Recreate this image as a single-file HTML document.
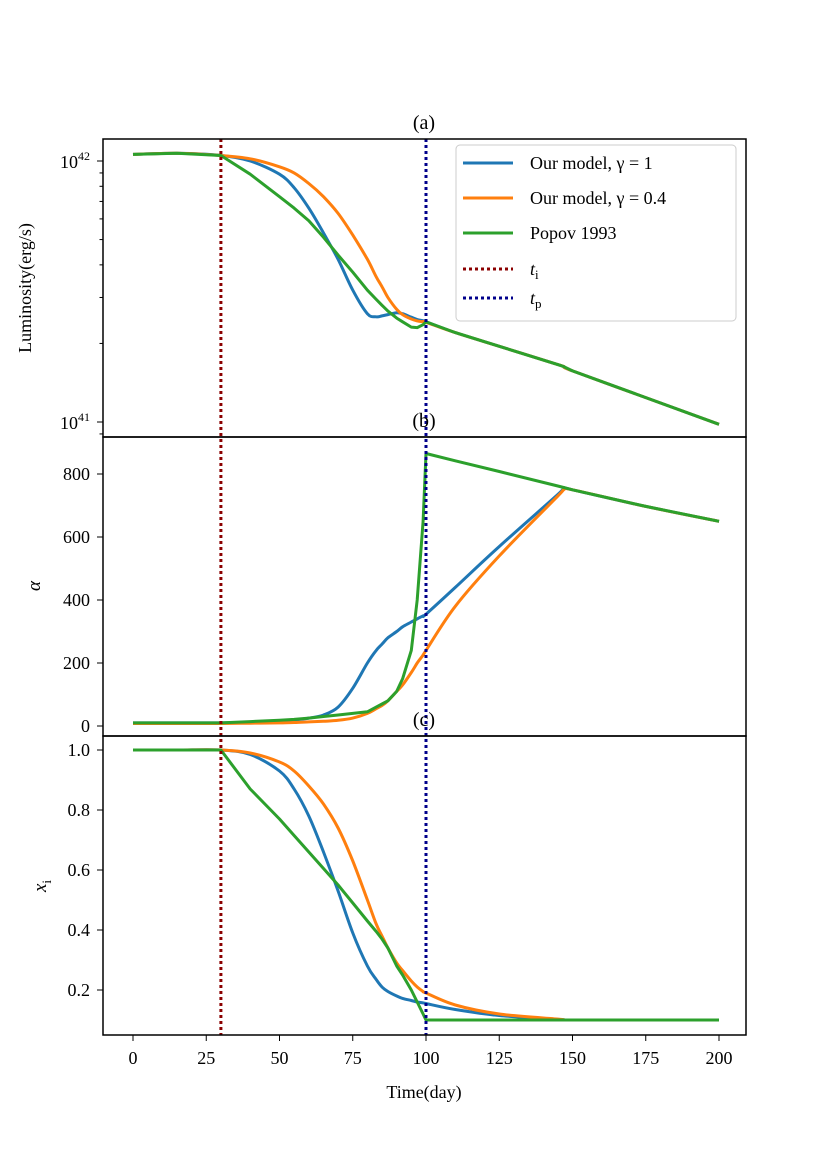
<!DOCTYPE html>
<html><head><meta charset="utf-8"><style>
body{margin:0;background:#fff}
svg text{font-family:"Liberation Serif","DejaVu Serif",serif;fill:#000}
</style></head><body>
<svg id="fig" width="830" height="1163"></svg>
<script>
const days=[0,15,30,40,50,55,60,65,70,75,80,83,85,87,90,92,95,97,99,100,110,125,145,147,150,175,200];
// luminosity in units of 1e41 erg/s
const lumBlue=[10.6,10.7,10.5,10.0,8.9,7.9,6.6,5.3,4.2,3.2,2.6,2.53,2.55,2.58,2.62,2.6,2.52,2.47,2.44,2.42,2.2,1.95,1.66,1.63,1.57,1.24,0.98];
const lumOrange=[10.6,10.7,10.5,10.2,9.5,9.0,8.2,7.3,6.3,5.2,4.2,3.6,3.3,3.0,2.7,2.58,2.48,2.44,2.42,2.41,2.2,1.95,1.66,1.63,1.57,1.24,0.98];
const lumGreen=[10.6,10.7,10.5,8.9,7.3,6.6,5.9,5.1,4.36,3.75,3.2,2.95,2.8,2.66,2.5,2.42,2.31,2.3,2.36,2.42,2.2,1.95,1.66,1.63,1.57,1.24,0.98];
const alphaBlue=[10,10,10,12,15,19,25,35,60,120,200,240,260,280,300,315,330,340,350,355,440,570,735,755,750,697,650];
const alphaOrange=[8,8,8,9,10,11,13,15,18,25,40,55,65,80,110,130,170,200,225,240,380,540,730,750,750,697,650];
const alphaGreen=[10,10,10,14,18,21,25,30,35,40,45,60,70,80,110,150,240,400,650,865,842,808,762,757,750,697,650];
const xiBlue=[1,1,1,0.985,0.93,0.87,0.78,0.66,0.53,0.39,0.28,0.235,0.21,0.195,0.18,0.172,0.165,0.16,0.157,0.155,0.135,0.115,0.102,0.101,0.1,0.1,0.1];
const xiOrange=[1,1,1,0.99,0.96,0.93,0.88,0.82,0.74,0.63,0.5,0.42,0.38,0.34,0.29,0.265,0.23,0.21,0.195,0.19,0.15,0.12,0.103,0.101,0.1,0.1,0.1];
const xiGreen=[1,1,1,0.87,0.77,0.715,0.66,0.605,0.55,0.49,0.43,0.395,0.37,0.34,0.28,0.25,0.2,0.16,0.12,0.1,0.1,0.1,0.1,0.1,0.1,0.1,0.1];
const xTicks=[0,25,50,75,100,125,150,175,200];
const alphaTicks=[0,200,400,600,800];
const xiTicks=[0.2,0.4,0.6,0.8,1.0];
const tI=30, tP=100;
const legendLabels=["Our model, γ = 1","Our model, γ = 0.4","Popov 1993","t_i","t_p"];

const NS="http://www.w3.org/2000/svg";
const svg=document.getElementById('fig');
function el(tag,attrs,parent){const e=document.createElementNS(NS,tag);for(const k in attrs)e.setAttribute(k,attrs[k]);(parent||svg).appendChild(e);return e;}
const L=103,R=746;
const X=t=>133+(t/200)*(719-133);
const panels=[{top:139,bot:437},{top:437,bot:736},{top:736,bot:1035}];
const yLum=v=>161-261*Math.log10(v/10);
const yAlpha=v=>726-v*(726-474)/800;
const yXi=v=>750+(1-v)*300;
const C={b:"#1f77b4",o:"#ff7f0e",g:"#2ca02c"};

function line(arr,yf,col,name,smooth){
  const P=days.map((t,i)=>[X(t),yf(arr[i])]);
  let d='M'+P[0][0].toFixed(1)+','+P[0][1].toFixed(1);
  for(let i=1;i<P.length;i++){
    if(!smooth){d+='L'+P[i][0].toFixed(1)+','+P[i][1].toFixed(1);continue;}
    const p0=P[Math.max(i-2,0)],p1=P[i-1],p2=P[i],p3=P[Math.min(i+1,P.length-1)];
    const c1=[p1[0]+(p2[0]-p0[0])/6,p1[1]+(p2[1]-p0[1])/6];
    const c2=[p2[0]-(p3[0]-p1[0])/6,p2[1]-(p3[1]-p1[1])/6];
    d+='C'+c1.map(v=>v.toFixed(1)).join(',')+' '+c2.map(v=>v.toFixed(1)).join(',')+' '+p2.map(v=>v.toFixed(1)).join(',');
  }
  const p=el('path',{d,fill:'none',stroke:col,'stroke-width':3,'stroke-linejoin':'round'});
  
  
}
function text(x,y,s,anchor,size,name){
  const t=el('text',{x,y,'text-anchor':anchor||'middle','font-size':size||17});
  t.textContent=s;
  
  
  return t;
}
line(lumBlue,yLum,C.b,'lum-gamma1',true);line(lumOrange,yLum,C.o,'lum-gamma04',true);line(lumGreen,yLum,C.g,'lum-popov',false);
line(alphaBlue,yAlpha,C.b,'alpha-gamma1',true);line(alphaOrange,yAlpha,C.o,'alpha-gamma04',true);line(alphaGreen,yAlpha,C.g,'alpha-popov',false);
line(xiBlue,yXi,C.b,'xi-gamma1',true);line(xiOrange,yXi,C.o,'xi-gamma04',true);line(xiGreen,yXi,C.g,'xi-popov',false);
[[tI,'#8b0000','ti-line'],[tP,'#00008b','tp-line']].forEach(([t,c,n])=>{
  const v=el('line',{x1:X(t),x2:X(t),y1:139,y2:1035,stroke:c,'stroke-width':3,'stroke-dasharray':'3,3'});
  
  
});
panels.forEach((p,i)=>{
  const r=el('rect',{x:L,y:p.top,width:R-L,height:p.bot-p.top,fill:'none',stroke:'#000','stroke-width':1.5});
  
  
  text(424,p.top-10,'('+'abc'[i]+')','middle',20,'panel-title-'+'abc'[i]);
});
[[10,'42'],[1,'41']].forEach(([v,e])=>{
  el('line',{x1:L-6,x2:L,y1:yLum(v),y2:yLum(v),stroke:'#000','stroke-width':1});
  const t=text(90,yLum(v)+7,'10','end',18,'lum-tick-label');
  const s=el('tspan',{dy:-8,'font-size':12},t);s.textContent=e;
});
for(let m=2;m<=9;m++){el('line',{x1:L-3.5,x2:L,y1:yLum(m),y2:yLum(m),stroke:'#000','stroke-width':1});}
el('line',{x1:L-3.5,x2:L,y1:yLum(0.9),y2:yLum(0.9),stroke:'#000','stroke-width':1});
alphaTicks.forEach(v=>{el('line',{x1:L-6,x2:L,y1:yAlpha(v),y2:yAlpha(v),stroke:'#000'});text(90,yAlpha(v)+6,String(v),'end',18,'alpha-tick-label');});
xiTicks.forEach(v=>{el('line',{x1:L-6,x2:L,y1:yXi(v),y2:yXi(v),stroke:'#000'});text(90,yXi(v)+6,v.toFixed(1),'end',18,'xi-tick-label');});
xTicks.forEach(v=>{el('line',{x1:X(v),x2:X(v),y1:1035,y2:1041,stroke:'#000'});text(X(v),1064,String(v),'middle',18,'x-tick-label');});
text(424,1098,'Time(day)','middle',18,'x-axis-title');
let t=text(0,0,'Luminosity(erg/s)','middle',18,'lum-axis-title');t.setAttribute('transform','translate(31,288) rotate(-90)');
t=text(0,0,'α','middle',19,'alpha-axis-title');t.setAttribute('font-style','italic');t.setAttribute('transform','translate(40,586) rotate(-90)');
t=text(0,0,'x','middle',19,'xi-axis-title');t.setAttribute('font-style','italic');t.setAttribute('transform','translate(46,886) rotate(-90)');
let sb=el('tspan',{dy:5,'font-size':13,'font-style':'normal'},t);sb.textContent='i';
const lg=el('g',{});


el('rect',{x:456,y:145,width:280,height:176,rx:4,fill:'#fff','fill-opacity':0.85,stroke:'#ccc'},lg);
const ly=[163,198,233,269,298];
const lc=[[C.b,''],[C.o,''],[C.g,''],['#8b0000','3,3'],['#00008b','3,3']];
legendLabels.forEach((s,i)=>{
  const ln=el('line',{x1:463,x2:513,y1:ly[i],y2:ly[i],stroke:lc[i][0],'stroke-width':3,'stroke-dasharray':lc[i][1]||'none'},lg);
  
  
  if(i<3){const tx=text(530,ly[i]+6,s,'start',18,'legend-entry');lg.appendChild(tx);}
  else{const tx=text(530,ly[i]+6,'t','start',18,'legend-entry');tx.setAttribute('font-style','italic');lg.appendChild(tx);
    const ss=el('tspan',{dy:4,'font-size':13,'font-style':'normal'},tx);ss.textContent=s.slice(2);}
});
</script>
</body></html>
